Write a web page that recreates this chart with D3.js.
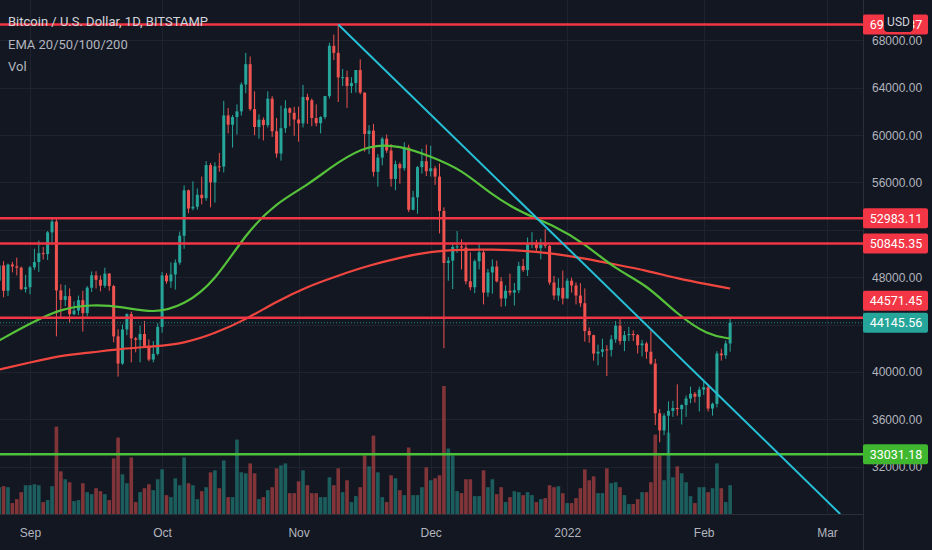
<!DOCTYPE html>
<html>
<head>
<meta charset="utf-8">
<script src="https://cdn.jsdelivr.net/npm/d3@7"></script>
<style>
  body { margin: 0; background: #131722; overflow: hidden; }
  svg { display: block; font-family: Roboto, "Noto Sans", sans-serif; }
</style>
</head>
<body>
<div id="chart"></div>
<script>
const W = 932, H = 550;
const plotRight = 863, plotBottom = 514;

// daily candles, first one is 2021-08-25
const firstDay = '2021-08-25';
const opens = [47700,48990,46850,49070,48910,48800,46990,47150,48830,49280,50030,49950,51790,52700,46880,46080,46400,44870,45180,46060,
  44960,47110,48160,47780,47280,48300,47250,43000,40700,43580,44880,42830,42700,43200,42200,41040,41520,43800,48150,47650,
  48230,49230,51500,55340,53800,53950,54960,54680,57470,56010,57370,57350,61670,60880,61530,62010,64280,66000,62200,60690,
  61300,60850,63080,60330,58450,60590,62270,61890,61320,61000,63230,62950,61450,61010,61530,63300,67550,66950,64880,64900,
  64150,64400,65500,63600,60100,60380,56900,58100,59700,58700,56300,57550,57200,58950,53700,54750,57300,57800,56950,57200,
  56500,53600,49200,49400,50550,50600,50500,47650,47150,49350,50100,46700,48400,48900,47650,46200,46850,46700,46900,48950,
  48600,50800,50850,50450,50750,50650,47550,46450,47100,46200,47700,47300,46450,45800,43450,43100,41550,41700,41900,41850,
  42750,43900,42600,43100,43200,43100,42250,42400,41700,40700,36500,35050,36300,36700,36950,36850,37200,37750,38150,37900,
  38500,38700,36900,37300,41550,41400,42400];
const highs = [49300,49350,49150,49300,49650,48900,48200,48950,50400,51100,50550,51900,52983,52900,47400,47350,47050,45950,46450,46850,
  47250,48480,48500,48150,48800,48350,47350,43600,44000,44950,45100,42950,43900,44300,42750,42600,44100,48450,48350,49250,
  49500,51850,55750,55400,56100,55500,56500,57800,57650,57700,58500,62900,62300,61700,62600,64450,66950,66650,63700,61750,
  61500,63700,63300,61450,62500,62950,62350,62400,62400,64250,63500,63100,62600,61600,63300,67800,68500,69355,65600,65450,
  64900,65500,66400,63600,60850,60950,58400,59850,60050,59250,57850,57700,59400,59200,55300,57400,58850,59200,59100,57400,
  57600,53900,49700,50900,51900,51200,50800,50100,49500,50800,50250,48700,49500,49400,48000,47300,48300,47500,49300,49550,
  51350,51800,51150,51250,52050,50700,48100,47900,48550,47900,47950,47550,47500,47050,43750,43150,42300,42800,42250,43100,
  44300,44450,43450,43800,43500,43200,42700,42550,43500,41100,36850,36500,37500,37550,38950,37250,38000,38750,38300,38750,
  39250,38850,37400,41750,41950,42650,44571];
const lows = [47100,46300,46400,48400,48150,46900,46700,46550,48620,48450,49500,49450,50950,43000,44500,45550,44150,44780,44800,43400,
  44700,46750,47050,46800,47100,46850,42500,39600,40600,43100,40800,41650,40800,42150,40900,40800,41400,43300,47450,47100,
  46950,49050,50400,53400,53650,53700,54150,54450,53900,54300,56900,56850,60150,58950,60050,61650,63550,62050,60000,59700,
  59550,60650,59850,58100,57850,60200,60750,59950,59450,60650,60950,60750,60750,60150,61350,63100,66350,62800,64150,62300,
  63550,63600,63450,58600,58400,56500,55650,57450,58500,55650,55350,55900,57000,53500,53650,53350,56750,56550,56500,55800,
  51700,42000,47700,47000,50050,48650,47400,46900,46650,48650,45700,46350,46600,47550,45500,45550,46450,45600,46650,48450,
  48100,50450,50200,49500,50450,47350,46100,46000,45700,46200,46700,45700,45500,42550,42450,40950,40550,41250,39650,41300,
  42450,42300,41750,42600,42600,41550,41300,41100,40600,35500,34050,34650,32950,36200,36300,35550,36200,37350,37400,36650,
  38050,36650,36300,37000,40950,41100,41700];
const closes = [48990,46850,49070,48910,48800,46990,47150,48830,49280,50030,49950,51790,52700,46880,46080,46400,44870,45180,46060,44960,
  47110,48160,47780,47280,48300,47250,43000,40700,43580,44880,42830,42700,43200,42200,41040,41520,43800,48150,47650,48230,
  49230,51500,55340,53800,53950,54960,54680,57470,56010,57370,57350,61670,60880,61530,62010,64280,66000,62200,60690,61300,
  60850,63080,60330,58450,60590,62270,61890,61320,61000,63230,62950,61450,61010,61530,63300,67550,66950,64880,64900,64150,
  64400,65500,63600,60100,60380,56900,58100,59700,58700,56300,57550,57200,58950,53700,54750,57300,57800,56950,57200,56500,
  53600,49200,49400,50550,50600,50500,47650,47150,49350,50100,46700,48400,48900,47650,46200,46850,46700,46900,48950,48600,
  50800,50850,50450,50750,50650,47550,46450,47100,46200,47700,47300,46450,45800,43450,43100,41550,41700,41900,41850,42750,
  43900,42600,43100,43200,43100,42250,42400,41700,40700,36500,35050,36300,36700,36950,36850,37200,37750,38150,37900,38500,
  38700,36900,37300,41550,41400,42400,44145.56];
const volumes = [2700,2800,2700,1100,1500,2200,2900,2900,3000,2900,1200,1400,2800,8800,4300,3500,3200,1300,1400,3100,
  2200,2000,2600,2300,2000,1400,5600,7700,4000,3100,5700,1200,2200,2600,3000,2400,3500,4500,1900,1700,
  3600,2900,5700,3100,2900,1500,2300,2700,4200,4400,2600,5400,1700,1700,7500,4200,4100,5100,4100,1500,
  1700,2400,2700,4600,4900,5100,2100,2100,3300,4400,2900,2100,2100,1700,1700,3700,2900,4600,2200,3400,
  1200,1800,2700,5900,4800,7900,4200,1700,1200,3900,3600,2400,1900,6700,1900,1900,2700,4700,3400,3600,
  3900,12900,6600,5900,2300,2100,3500,3500,1800,1800,4400,2700,3500,2000,2700,1200,1700,2300,2200,1900,
  2200,1900,1200,1500,1600,2900,2700,2800,2100,1100,1100,1600,2600,4500,3400,3800,2100,2100,4600,3100,
  3200,2700,1900,1000,1000,1500,2200,2200,3200,8000,5900,3400,8200,3700,4800,4100,3200,1800,1100,2700,
  2700,2200,2600,5100,2600,1200,2900];

// EMA 50 / EMA 200, weekly
const emaDates = ['2021-08-25','2021-09-01','2021-09-08','2021-09-15','2021-09-22','2021-09-29','2021-10-06','2021-10-13',
  '2021-10-20','2021-10-27','2021-11-03','2021-11-10','2021-11-17','2021-11-24','2021-12-01','2021-12-08','2021-12-15',
  '2021-12-22','2021-12-29','2022-01-05','2022-01-12','2022-01-19','2022-01-26','2022-02-02','2022-02-07'];
const ema50 = [42650,44090,45350,45690,45520,44930,45610,47640,51700,54310,55750,57770,59210,59130,58200,57100,54900,
  53380,52370,50850,48650,47380,44850,43070,42820];
const ema200 = [40200,40790,41380,41640,41970,42140,42400,43240,44420,45950,47210,48140,48990,49660,50170,50340,50340,
  50255,50000,49580,49070,48560,47890,47380,47040];

const resistLevels = [69355.37, 52983.11, 50845.35, 44571.45];
const supportLevels = [33031.18];
const trendDates = ['2021-11-10', '2022-03-04'];
const trendPrices = [69355, 27990];
const priceTicks = [32000, 36000, 40000, 44000, 48000, 52000, 56000, 60000, 64000, 68000];
const monthTicks = ['2021-09-01','2021-10-01','2021-11-01','2021-12-01','2022-01-01','2022-02-01','2022-03-01'];
const monthLabels = ['Sep','Oct','Nov','Dec','2022','Feb','Mar'];
const lastPrice = 44145.56;

const UP = '#26a69a', DOWN = '#ef5350';
const candles = closes.map((c, i) => ({
  date: d3.utcDay.offset(new Date(firstDay), i),
  o: opens[i], h: highs[i], l: lows[i], c: c, v: volumes[i]
}));

const x = d3.scaleUtc()
  .domain([new Date(monthTicks[0]), new Date(monthTicks[6])])
  .range([30, 827]);
const y = d3.scaleLinear().domain([27990, 71420]).range([plotBottom, 0]);
const yVol = d3.scaleLinear().domain([0, 13000]).range([plotBottom, 385]);

const svg = d3.select('#chart').append('svg')
  .attr('width', W).attr('height', H);

svg.append('rect').attr('width', W).attr('height', H).attr('fill', '#131722');

svg.append('clipPath').attr('id', 'plot')
  .append('rect').attr('width', plotRight).attr('height', plotBottom);

// grid
const grid = svg.append('g').attr('clip-path', 'url(#plot)');
grid.selectAll('line.h').data(priceTicks).enter().append('line')
  .attr('x1', 0).attr('x2', plotRight)
  .attr('y1', d => Math.round(y(d)) + 0.5).attr('y2', d => Math.round(y(d)) + 0.5)
  .attr('stroke', '#1f2330');
grid.selectAll('line.v').data(monthTicks).enter().append('line')
  .attr('y1', 0).attr('y2', plotBottom)
  .attr('x1', d => Math.round(x(new Date(d))) + 0.5).attr('x2', d => Math.round(x(new Date(d))) + 0.5)
  .attr('stroke', '#1f2330');

const plot = svg.append('g').attr('clip-path', 'url(#plot)');

// volume
plot.selectAll('rect.vol').data(candles).enter().append('rect')
  .attr('x', d => x(d.date) - 1.8)
  .attr('width', 3.6)
  .attr('y', d => yVol(d.v))
  .attr('height', d => plotBottom - yVol(d.v))
  .attr('fill', d => d.c >= d.o ? UP : DOWN)
  .attr('opacity', 0.5);

// candles
const gc = plot.selectAll('g.candle').data(candles).enter().append('g');
gc.append('line')
  .attr('x1', d => x(d.date)).attr('x2', d => x(d.date))
  .attr('y1', d => y(d.h)).attr('y2', d => y(d.l))
  .attr('stroke', d => d.c >= d.o ? UP : DOWN).attr('stroke-width', 1);
gc.append('rect')
  .attr('x', d => x(d.date) - 1.5)
  .attr('width', 3)
  .attr('y', d => y(Math.max(d.o, d.c)))
  .attr('height', d => Math.max(1, Math.abs(y(d.o) - y(d.c))))
  .attr('fill', d => d.c >= d.o ? UP : DOWN);

// current price dotted line
plot.append('line')
  .attr('x1', 0).attr('x2', plotRight)
  .attr('y1', y(lastPrice)).attr('y2', y(lastPrice))
  .attr('stroke', UP).attr('stroke-dasharray', '1,2').attr('opacity', 0.8);

// EMAs
const emaLine = d3.line()
  .x((d, i) => x(new Date(emaDates[i])))
  .y(d => y(d))
  .curve(d3.curveBasis);
plot.append('path').datum(ema200).attr('d', emaLine)
  .attr('fill', 'none').attr('stroke', '#f0463f').attr('stroke-width', 2.2);
plot.append('path').datum(ema50).attr('d', emaLine)
  .attr('fill', 'none').attr('stroke', '#56c23a').attr('stroke-width', 2.2);

// horizontal levels
plot.selectAll('line.res').data(resistLevels).enter().append('line')
  .attr('x1', 0).attr('x2', plotRight)
  .attr('y1', d => y(d)).attr('y2', d => y(d))
  .attr('stroke', '#f23645').attr('stroke-width', 2.5);
plot.selectAll('line.sup').data(supportLevels).enter().append('line')
  .attr('x1', 0).attr('x2', plotRight)
  .attr('y1', d => y(d)).attr('y2', d => y(d))
  .attr('stroke', '#4cc23a').attr('stroke-width', 2.5);

// trend line
plot.append('line')
  .attr('x1', x(new Date(trendDates[0]))).attr('y1', y(trendPrices[0]))
  .attr('x2', x(new Date(trendDates[1]))).attr('y2', y(trendPrices[1]))
  .attr('stroke', '#26bfd6').attr('stroke-width', 2);

// borders
svg.append('line').attr('x1', plotRight + 0.5).attr('x2', plotRight + 0.5)
  .attr('y1', 0).attr('y2', H).attr('stroke', '#2a2e39');
svg.append('line').attr('x1', 0).attr('x2', plotRight)
  .attr('y1', plotBottom + 0.5).attr('y2', plotBottom + 0.5).attr('stroke', '#2a2e39');

// price label positions (last price label pushes a close level label upward)
const lastY = y(lastPrice);
const labelSpots = resistLevels.map(p => {
  let cy = y(p);
  if (Math.abs(cy - lastY) < 20) cy = lastY - 22;
  return { price: p, cy: cy, fill: '#f23645' };
}).concat(supportLevels.map(p => ({ price: p, cy: y(p), fill: '#3fb82f' })))
  .concat([{ price: lastPrice, cy: lastY, fill: UP }]);

// price axis, tick labels hidden where a level label sits on them
const yAxis = d3.axisRight(y).tickValues(priceTicks).tickSize(0).tickPadding(9)
  .tickFormat(d3.format('.2f'));
const ya = svg.append('g').attr('transform', `translate(${plotRight},0)`).call(yAxis);
ya.select('.domain').remove();
ya.selectAll('text').attr('fill', '#b2b5be').style('font-size', '12px');
ya.selectAll('.tick').filter(d => labelSpots.some(s => Math.abs(s.cy - y(d)) < 12)).remove();

// time axis
const xAxis = d3.axisBottom(x).tickValues(monthTicks.map(d => new Date(d))).tickSize(0).tickPadding(14)
  .tickFormat((d, i) => monthLabels[i]);
const xa = svg.append('g').attr('transform', `translate(0,${plotBottom})`).call(xAxis);
xa.select('.domain').remove();
xa.selectAll('text').attr('fill', '#b2b5be').style('font-size', '12px');

// axis labels for levels
labelSpots.forEach(s => {
  const g = svg.append('g').attr('transform', `translate(${plotRight},${s.cy})`);
  g.append('rect').attr('x', 0).attr('y', -10).attr('width', 65).attr('height', 20)
    .attr('rx', 2).attr('fill', s.fill);
  g.append('text').attr('x', 33).attr('y', 4.5).attr('text-anchor', 'middle')
    .attr('fill', '#ffffff').style('font-size', '12.5px').text(d3.format('.2f')(s.price));
});

// USD badge
svg.append('rect').attr('x', 884).attr('y', 10).attr('width', 29).attr('height', 22)
  .attr('rx', 4).attr('fill', '#131722');
svg.append('text').attr('x', 898.5).attr('y', 25.5).attr('text-anchor', 'middle')
  .attr('fill', '#d1d4dc').style('font-size', '12px').text('USD');

// legend
const legend = svg.append('g').attr('fill', '#d1d4dc').style('font-size', '13px');
legend.append('text').attr('x', 8).attr('y', 26).text('Bitcoin / U.S. Dollar, 1D, BITSTAMP');
legend.append('text').attr('x', 8).attr('y', 49).attr('fill', '#b2b5be').text('EMA 20/50/100/200');
legend.append('text').attr('x', 8).attr('y', 71).attr('fill', '#b2b5be').text('Vol');
</script>
</body>
</html>
